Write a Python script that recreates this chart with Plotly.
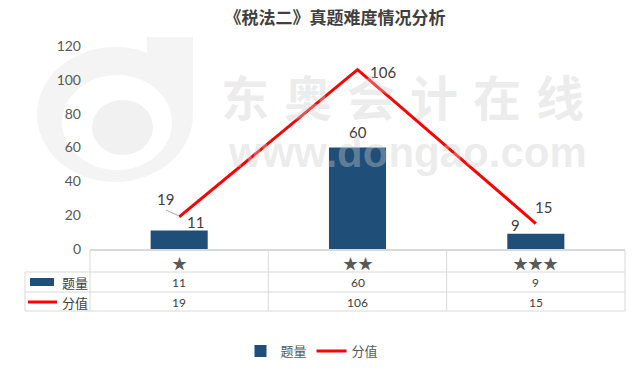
import plotly.graph_objects as go

categories = ["★", "★★", "★★★"]
count_values = [11, 60, 9]
score_values = [19, 106, 15]
series_names = ["题量", "分值"]
title_text = "《税法二》真题难度情况分析"
y_ticks = [0, 20, 40, 60, 80, 100, 120]
watermark_chars = ["东", "奥", "会", "计", "在", "线"]
watermark_url = "www.dongao.com"

# page geometry in pixels (body margin removed below)
W, H = 641, 368
PL, PR, PT, PB = 90, 625, 46, 249

def px(x):
    return (x - PL) / (PR - PL)

def py(y):
    return (PB - y) / (PB - PT)

BLUE = "#1f4e79"
RED = "#ff0000"
GRID = "#d9d9d9"
TXT = "#404040"
FONT = "Lato, 'Noto Sans CJK SC', sans-serif"
CJK = "'Noto Sans CJK SC', sans-serif"

xs = list(range(len(categories)))

fig = go.Figure()
fig.add_trace(go.Bar(x=xs, y=count_values, name=series_names[0],
                     marker=dict(color=BLUE, line=dict(width=0)), width=0.32))
fig.add_trace(go.Scatter(x=xs, y=score_values, name=series_names[1], mode="lines",
                         line=dict(color=RED, width=3)))

shapes = []
# watermark logo
wm = "#f4f4f4"
shapes.append(dict(type="circle", xref="paper", yref="paper", layer="below",
                   x0=px(37), x1=px(193), y0=py(182), y1=py(47), fillcolor=wm, line=dict(width=0)))
shapes.append(dict(type="rect", xref="paper", yref="paper", layer="below",
                   x0=px(147), x1=px(193), y0=py(114), y1=py(37), fillcolor=wm, line=dict(width=0)))
shapes.append(dict(type="circle", xref="paper", yref="paper", layer="below",
                   x0=px(62), x1=px(172), y0=py(170), y1=py(75), fillcolor="white", line=dict(width=0)))
shapes.append(dict(type="circle", xref="paper", yref="paper", layer="below",
                   x0=px(92), x1=px(153), y0=py(155), y1=py(100), fillcolor="#f1f1f1", line=dict(width=0)))

def hline(y, x0, x1, w=1):
    shapes.append(dict(type="line", xref="paper", yref="paper", x0=px(x0), x1=px(x1),
                       y0=py(y), y1=py(y), line=dict(color=GRID, width=w)))

def vline_paper(x, y0, y1):
    shapes.append(dict(type="line", xref="paper", yref="paper", x0=px(x), x1=px(x),
                       y0=py(y0), y1=py(y1), line=dict(color=GRID, width=1)))

hline(250, PL, PR, 2)
hline(272, 25, PR)
hline(292, 25, PR)
hline(311, 25, PR)
vline_paper(25, 272, 311)
vline_paper(PL, 250, 311)
vline_paper(PR, 250, 311)
for b in [0.5, 1.5]:
    shapes.append(dict(type="line", xref="x", yref="paper", x0=b, x1=b,
                       y0=py(250), y1=py(311), line=dict(color=GRID, width=1)))
# legend keys in table
shapes.append(dict(type="rect", xref="paper", yref="paper", x0=px(30), x1=px(54),
                   y0=py(286), y1=py(278), fillcolor=BLUE, line=dict(width=0)))
shapes.append(dict(type="line", xref="paper", yref="paper", x0=px(28), x1=px(57),
                   y0=py(302), y1=py(302), line=dict(color=RED, width=3)))
# leader line for first score label
shapes.append(dict(type="line", xref="paper", yref="paper", x0=px(166), x1=px(178),
                   y0=py(210), y1=py(215.5), line=dict(color="#a6a6a6", width=1)))

ann = []
C = dict(xanchor="center", yanchor="middle")
# table text
for i, c in enumerate(categories):
    ann.append(dict(x=i, y=py(262), xref="x", yref="paper", text=c, showarrow=False, **C,
                    font=dict(size=15, color="#595959", family=CJK)))
    ann.append(dict(x=i, y=py(282), xref="x", yref="paper", text=str(count_values[i]),
                    showarrow=False, **C, font=dict(size=12, color=TXT, family=FONT)))
    ann.append(dict(x=i, y=py(302), xref="x", yref="paper", text=str(score_values[i]),
                    showarrow=False, **C, font=dict(size=12, color=TXT, family=FONT)))
for name, yy in zip(series_names, [282, 302]):
    ann.append(dict(x=px(75), y=py(yy), xref="paper", yref="paper", text=name,
                    showarrow=False, **C, font=dict(size=13, color=TXT, family=CJK)))

# data labels
bar_shift = [(16, 8), (0, 16), (-20, 9)]
for i, v in enumerate(count_values):
    ann.append(dict(x=i, y=v, xref="x", yref="y", text=str(v), showarrow=False, **C,
                    xshift=bar_shift[i][0], yshift=bar_shift[i][1],
                    font=dict(size=15, color=TXT, family=FONT)))
line_shift = [(-14, 18), (25, -2), (8, 17)]
for i, v in enumerate(score_values):
    ann.append(dict(x=i, y=v, xref="x", yref="y", text=str(v), showarrow=False, **C,
                    xshift=line_shift[i][0], yshift=line_shift[i][1],
                    font=dict(size=15, color=TXT, family=FONT)))

# watermark text
wm_txt = "rgba(205,205,205,0.38)"
for k, ch in enumerate(watermark_chars):
    ann.append(dict(x=px(245 + 63 * k), y=py(95), xref="paper", yref="paper", text="<b>%s</b>" % ch,
                    showarrow=False, **C, font=dict(size=48, color=wm_txt, family=CJK)))
ann.append(dict(x=px(407), y=py(152), xref="paper", yref="paper", text="<b>%s</b>" % watermark_url,
                showarrow=False, **C, font=dict(size=42, color=wm_txt, family="Liberation Sans, Arial")))

fig.update_layout(
    width=W, height=H,
    margin=dict(l=PL, r=W - PR, t=PT, b=H - PB, pad=0, autoexpand=False),
    paper_bgcolor="white", plot_bgcolor="white",
    title=dict(text="<b>%s</b>" % title_text, x=335 / W, xanchor="center",
               y=1 - 18.5 / H, yanchor="middle",
               font=dict(size=17, color="#404040", family=CJK)),
    xaxis=dict(range=[-0.5, 2.5], showticklabels=False, showgrid=False, zeroline=False,
               showline=False, ticks="", fixedrange=True),
    yaxis=dict(range=[0, 120], tickvals=y_ticks, showgrid=False, zeroline=False,
               showline=False, ticks="", ticklabelstandoff=8,
               tickfont=dict(size=14, color="#595959", family=FONT)),
    showlegend=True,
    legend=dict(orientation="h", xref="container", yref="container",
                x=312 / W, xanchor="center", y=1 - 351 / H, yanchor="middle",
                font=dict(size=13, color="#595959", family=CJK), itemwidth=30,
                bgcolor="rgba(0,0,0,0)", tracegroupgap=0),
    shapes=shapes, annotations=ann, bargap=0.68,
)

fig.write_html("out.html", config={"displayModeBar": False},
               post_script="document.body.style.margin='0';document.body.style.overflow='hidden';")
